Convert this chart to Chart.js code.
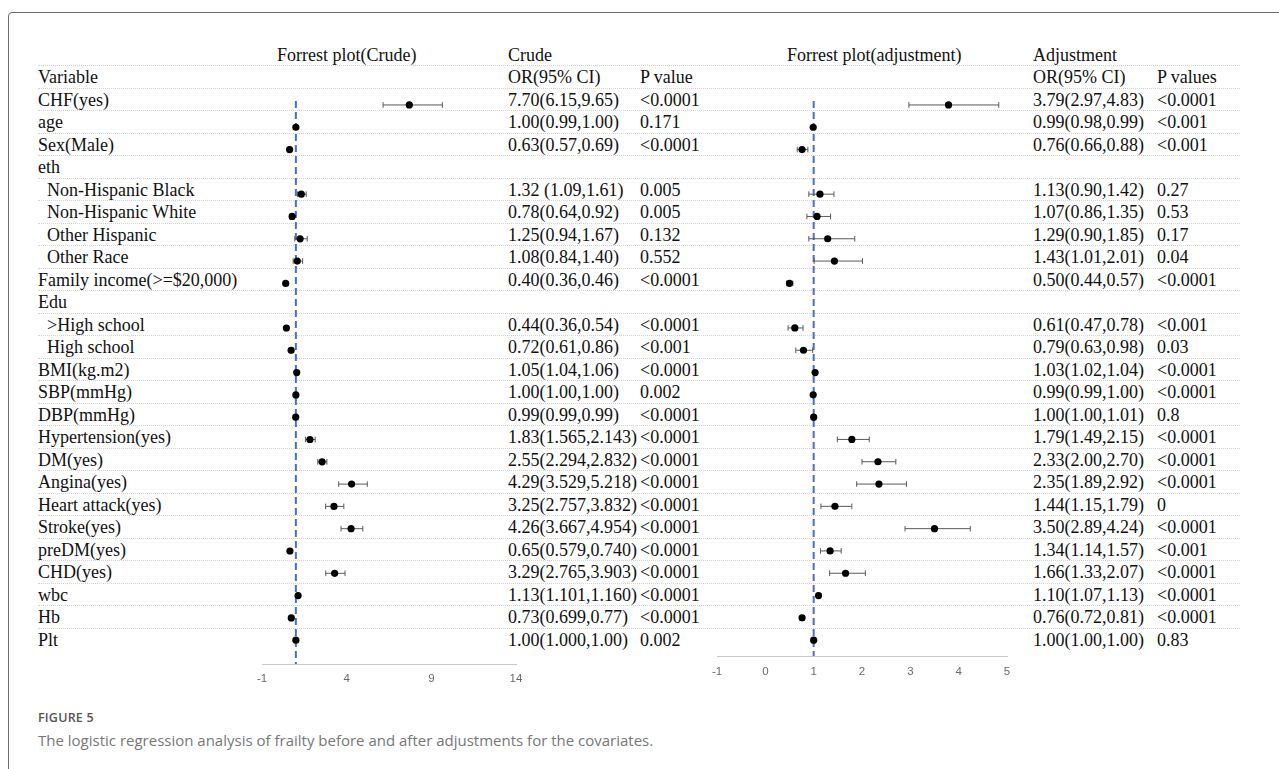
<!DOCTYPE html>
<html>
<head>
<meta charset="utf-8">
<script src="https://cdn.jsdelivr.net/npm/chart.js@4.4.1/dist/chart.umd.min.js"></script>
<style>
  html, body { margin: 0; padding: 0; background: #fff; }
  body { width: 1279px; height: 769px; overflow: hidden; position: relative; }
  #frame { position: absolute; left: 8px; top: 12px; width: 1320px; height: 820px;
           border: 1.5px solid #6b6b6b; border-radius: 4px; box-sizing: border-box; }
  .row { position: absolute; left: 38px; width: 1202px; height: 22.5px; line-height: 22.5px;
         font-family: "Liberation Serif", "Times New Roman", serif; font-size: 18px; color: #111; }
  .row.sep { border-bottom: 1px dotted #d4d4d4; box-sizing: border-box; }
  .cell { position: absolute; top: 0; white-space: pre; }
  .chartbox { position: absolute; }
  #figlabel { position: absolute; left: 38px; top: 709px; font-family: "Open Sans", sans-serif;
              font-size: 12.5px; font-weight: 600; color: #555; letter-spacing: 0.2px; }
  #figcap { position: absolute; left: 38px; top: 730px; font-family: "Open Sans", sans-serif;
            font-size: 15px; color: #777; }
</style>
</head>
<body>
<div id="frame"></div>
<div id="table"></div>
<div class="chartbox" id="box1"><canvas id="c1"></canvas></div>
<div class="chartbox" id="box2"><canvas id="c2"></canvas></div>
<div id="figlabel">FIGURE 5</div>
<div id="figcap">The logistic regression analysis of frailty before and after adjustments for the covariates.</div>
<script>
// ---------------- data ----------------
const variables = [
  "CHF(yes)", "age", "Sex(Male)", "eth",
  "  Non-Hispanic Black", "  Non-Hispanic White", "  Other Hispanic", "  Other Race",
  "Family income(>=$20,000)", "Edu", "  >High school", "  High school",
  "BMI(kg.m2)", "SBP(mmHg)", "DBP(mmHg)", "Hypertension(yes)", "DM(yes)",
  "Angina(yes)", "Heart attack(yes)", "Stroke(yes)", "preDM(yes)", "CHD(yes)",
  "wbc", "Hb", "Plt"
];

const crudeOR = [7.70, 1.00, 0.63, null, 1.32, 0.78, 1.25, 1.08, 0.40, null, 0.44, 0.72,
  1.05, 1.00, 0.99, 1.83, 2.55, 4.29, 3.25, 4.26, 0.65, 3.29, 1.13, 0.73, 1.00];
const crudeLo = [6.15, 0.99, 0.57, null, 1.09, 0.64, 0.94, 0.84, 0.36, null, 0.36, 0.61,
  1.04, 1.00, 0.99, 1.565, 2.294, 3.529, 2.757, 3.667, 0.579, 2.765, 1.101, 0.699, 1.000];
const crudeHi = [9.65, 1.00, 0.69, null, 1.61, 0.92, 1.67, 1.40, 0.46, null, 0.54, 0.86,
  1.06, 1.00, 0.99, 2.143, 2.832, 5.218, 3.832, 4.954, 0.740, 3.903, 1.160, 0.77, 1.00];
const crudeText = ["7.70(6.15,9.65)", "1.00(0.99,1.00)", "0.63(0.57,0.69)", "",
  "1.32 (1.09,1.61)", "0.78(0.64,0.92)", "1.25(0.94,1.67)", "1.08(0.84,1.40)",
  "0.40(0.36,0.46)", "", "0.44(0.36,0.54)", "0.72(0.61,0.86)",
  "1.05(1.04,1.06)", "1.00(1.00,1.00)", "0.99(0.99,0.99)", "1.83(1.565,2.143)",
  "2.55(2.294,2.832)", "4.29(3.529,5.218)", "3.25(2.757,3.832)", "4.26(3.667,4.954)",
  "0.65(0.579,0.740)", "3.29(2.765,3.903)", "1.13(1.101,1.160)", "0.73(0.699,0.77)",
  "1.00(1.000,1.00)"];
const crudeP = ["<0.0001", "0.171", "<0.0001", "", "0.005", "0.005", "0.132", "0.552",
  "<0.0001", "", "<0.0001", "<0.001", "<0.0001", "0.002", "<0.0001", "<0.0001",
  "<0.0001", "<0.0001", "<0.0001", "<0.0001", "<0.0001", "<0.0001", "<0.0001",
  "<0.0001", "0.002"];

const adjOR = [3.79, 0.99, 0.76, null, 1.13, 1.07, 1.29, 1.43, 0.50, null, 0.61, 0.79,
  1.03, 0.99, 1.00, 1.79, 2.33, 2.35, 1.44, 3.50, 1.34, 1.66, 1.10, 0.76, 1.00];
const adjLo = [2.97, 0.98, 0.66, null, 0.90, 0.86, 0.90, 1.01, 0.44, null, 0.47, 0.63,
  1.02, 0.99, 1.00, 1.49, 2.00, 1.89, 1.15, 2.89, 1.14, 1.33, 1.07, 0.72, 1.00];
const adjHi = [4.83, 0.99, 0.88, null, 1.42, 1.35, 1.85, 2.01, 0.57, null, 0.78, 0.98,
  1.04, 1.00, 1.01, 2.15, 2.70, 2.92, 1.79, 4.24, 1.57, 2.07, 1.13, 0.81, 1.00];
const adjText = ["3.79(2.97,4.83)", "0.99(0.98,0.99)", "0.76(0.66,0.88)", "",
  "1.13(0.90,1.42)", "1.07(0.86,1.35)", "1.29(0.90,1.85)", "1.43(1.01,2.01)",
  "0.50(0.44,0.57)", "", "0.61(0.47,0.78)", "0.79(0.63,0.98)",
  "1.03(1.02,1.04)", "0.99(0.99,1.00)", "1.00(1.00,1.01)", "1.79(1.49,2.15)",
  "2.33(2.00,2.70)", "2.35(1.89,2.92)", "1.44(1.15,1.79)", "3.50(2.89,4.24)",
  "1.34(1.14,1.57)", "1.66(1.33,2.07)", "1.10(1.07,1.13)", "0.76(0.72,0.81)",
  "1.00(1.00,1.00)"];
const adjP = ["<0.0001", "<0.001", "<0.001", "", "0.27", "0.53", "0.17", "0.04",
  "<0.0001", "", "<0.001", "0.03", "<0.0001", "<0.0001", "0.8", "<0.0001",
  "<0.0001", "<0.0001", "0", "<0.0001", "<0.001", "<0.0001", "<0.0001",
  "<0.0001", "0.83"];

const crudeTicks = [-1, 4, 9, 14];
const adjTicks = [-1, 0, 1, 2, 3, 4, 5];

// ---------------- table text ----------------
const ROW_H = 22.5, FIRST_ROW_Y = 55;     // centre of the first header row
const COL = { v: 0, plot1: 239, crude: 470, p1: 602, plot2: 749, adj: 995, p2: 1119 };
const table = document.getElementById('table');
function addRow(j, cells, sep) {
  const r = document.createElement('div');
  r.className = 'row' + (sep ? ' sep' : '');
  r.style.top = (FIRST_ROW_Y + ROW_H * j - ROW_H / 2) + 'px';
  for (const [x, t] of cells) {
    if (!t) continue;
    const c = document.createElement('span');
    c.className = 'cell'; c.style.left = x + 'px'; c.textContent = t;
    r.appendChild(c);
  }
  table.appendChild(r);
}
addRow(0, [[COL.plot1, "Forrest plot(Crude)"], [COL.crude, "Crude"],
           [COL.plot2, "Forrest plot(adjustment)"], [COL.adj, "Adjustment"]], true);
addRow(1, [[COL.v, "Variable"], [COL.crude, "OR(95% CI)"], [COL.p1, "P value"],
           [COL.adj, "OR(95% CI)"], [COL.p2, "P values"]], true);
variables.forEach((v, i) => {
  addRow(i + 2, [[COL.v, v], [COL.crude, crudeText[i]], [COL.p1, crudeP[i]],
                 [COL.adj, adjText[i]], [COL.p2, adjP[i]]], i < variables.length - 1);
});

// ---------------- forest plots ----------------
const FIRST_DATA_Y = FIRST_ROW_Y + 2 * ROW_H;   // pixel centre of row 0 (CHF)
const AXIS_H = 30, PAD = 20;

function forest(canvasId, boxId, est, lo, hi, ticks, area, tickPad) {
  const xmin = ticks[0], xmax = ticks[ticks.length - 1];
  const step = ticks[1] - ticks[0];
  const yMin = (area.top - FIRST_DATA_Y) / ROW_H;
  const yMax = (area.bottom - FIRST_DATA_Y) / ROW_H;
  const w = area.right - area.left + 2 * PAD;
  const h = area.bottom - area.top + AXIS_H;
  const box = document.getElementById(boxId);
  box.style.left = (area.left - PAD) + 'px';
  box.style.top = area.top + 'px';
  box.style.width = w + 'px'; box.style.height = h + 'px';
  const cv = document.getElementById(canvasId);
  cv.width = w; cv.height = h;

  const pts = [], whisk = [];
  est.forEach((v, i) => {
    if (v === null) return;
    pts.push({ x: v, y: i });
    whisk.push({ x: lo[i], y: i }, { x: hi[i], y: i }, { x: hi[i], y: null });
  });

  new Chart(cv, {
    type: 'scatter',
    data: {
      datasets: [
        { data: pts, order: 0, pointRadius: 3.6, pointBackgroundColor: '#000',
          pointBorderColor: '#000', pointBorderWidth: 0, showLine: false },
        { type: 'line', data: whisk, order: 1, borderColor: '#5a5a5a', borderWidth: 1,
          spanGaps: false, pointStyle: 'line', rotation: 90, pointRadius: 2.8,
          pointBorderColor: '#5a5a5a', pointBorderWidth: 1, fill: false },
        { type: 'line', data: [{ x: 1, y: yMin }, { x: 1, y: yMax }], order: 2,
          borderColor: '#4472c4', borderWidth: 2, borderDash: [7, 4], pointRadius: 0, fill: false }
      ]
    },
    options: {
      responsive: false, animation: false, devicePixelRatio: 1, events: [],
      layout: { padding: { left: PAD, right: PAD, top: 0, bottom: 0 } },
      plugins: { legend: { display: false }, tooltip: { enabled: false } },
      scales: {
        x: {
          type: 'linear', min: xmin, max: xmax,
          grid: { display: false, drawTicks: false },
          border: { display: true, color: '#c8c8c8', width: 1 },
          ticks: { stepSize: step, padding: tickPad, color: '#6b6b6b',
                   font: { family: 'Liberation Sans', size: 11.5 } },
          afterFit: (s) => { s.height = AXIS_H; }
        },
        y: { type: 'linear', reverse: true, min: yMin, max: yMax, display: false }
      }
    }
  });
}

forest('c1', 'box1', crudeOR, crudeLo, crudeHi, crudeTicks,
       { left: 262, right: 516, top: 96, bottom: 664 }, 8);
forest('c2', 'box2', adjOR, adjLo, adjHi, adjTicks,
       { left: 717, right: 1007, top: 96, bottom: 656 }, 9);
</script>
</body>
</html>
